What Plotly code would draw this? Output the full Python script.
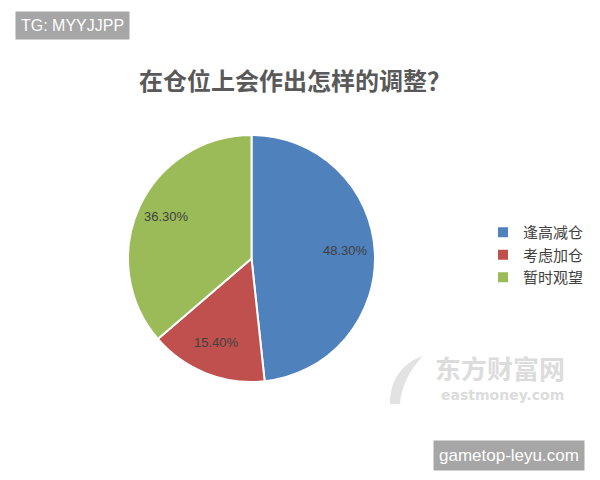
import math
import plotly.graph_objects as go

categories = ["逢高减仓", "考虑加仓", "暂时观望"]
values = [48.3, 15.4, 36.3]
colors = ["#4F81BD", "#C0504D", "#9BBB59"]
title = "在仓位上会作出怎样的调整？"

# page has an 8px body margin; figure fits the rest of the 600x480 window
OFF = 8
W, H = 600 - OFF, 480 - OFF
def px(x): return (x - OFF) / W
def py(y): return 1 - (y - OFF) / H

# pie box in window pixels
PL, PR, PT, PB = 128, 375, 135, 382
cx, cy = (PL + PR) / 2, (PT + PB) / 2
r = min(PR - PL, PB - PT) / 2

fig = go.Figure()
fig.add_trace(go.Pie(
    labels=categories, values=values, sort=False, direction="clockwise", rotation=0,
    marker=dict(colors=colors, line=dict(color="white", width=2)),
    textinfo="none",
    domain=dict(x=[px(PL), px(PR)], y=[py(PB), py(PT)]),
    hoverinfo="label+percent",
))

# data labels at ~0.76 radius along each slice's mid angle (derived from values)
total = sum(values)
cum = 0
for v in values:
    mid = (cum + v / 2) / total * 2 * math.pi
    cum += v
    lx = cx + 0.76 * r * math.sin(mid)
    ly = cy - 0.76 * r * math.cos(mid) - 3
    fig.add_annotation(x=px(lx), y=py(ly), xref="paper", yref="paper", showarrow=False,
                       xanchor="center", yanchor="middle", text=f"{v:.2f}%",
                       font=dict(family="Liberation Sans", size=13, color="#404040"))

fig.update_layout(
    width=W, height=H, margin=dict(l=0, r=0, t=0, b=0, autoexpand=False),
    paper_bgcolor="white", plot_bgcolor="white",
    title=dict(text="<b>" + title + "</b>", x=px(295), y=py(82), xanchor="center", yanchor="middle",
               font=dict(family="Noto Sans CJK SC", size=24, color="#595959")),
    legend=dict(x=px(483), y=py(216), xanchor="left", yanchor="top",
                font=dict(family="Noto Sans CJK SC", size=15, color="#404040"),
                itemwidth=30, bgcolor="rgba(0,0,0,0)"),
    font=dict(family="Noto Sans CJK SC"),
)

# watermark logo (eastmoney)
fig.add_shape(type="path", xref="paper", yref="paper",
              path=f"M {px(390)},{py(404)} C {px(390)},{py(380)} {px(402)},{py(363)} {px(423)},{py(356)} "
                   f"C {px(409)},{py(370)} {px(401)},{py(388)} {px(400)},{py(404)} Z",
              fillcolor="#E2E2E2", line=dict(width=0), layer="below")
fig.add_annotation(x=px(500), y=py(367), xref="paper", yref="paper", showarrow=False,
                   xanchor="center", yanchor="middle",
                   text="<b>东方财富网</b>", font=dict(family="Noto Sans CJK SC", size=26, color="#DCDCDC"))
fig.add_annotation(x=px(502), y=py(395), xref="paper", yref="paper", showarrow=False,
                   xanchor="center", yanchor="middle",
                   text="<b>eastmoney.com</b>", font=dict(family="DejaVu Sans", size=14, color="#DCDCDC"))

# corner tags
fig.add_annotation(x=px(72), y=py(25), xref="paper", yref="paper", showarrow=False,
                   xanchor="center", yanchor="middle",
                   text="TG: MYYJJPP", bgcolor="#A6A6A6", borderpad=5,
                   font=dict(family="Liberation Sans", size=16, color="white"))
fig.add_annotation(x=px(509), y=py(455), xref="paper", yref="paper", showarrow=False,
                   xanchor="center", yanchor="middle",
                   text="gametop-leyu.com", bgcolor="#A6A6A6", borderpad=5,
                   font=dict(family="Liberation Sans", size=17, color="white"))

fig.write_html("out.html")
